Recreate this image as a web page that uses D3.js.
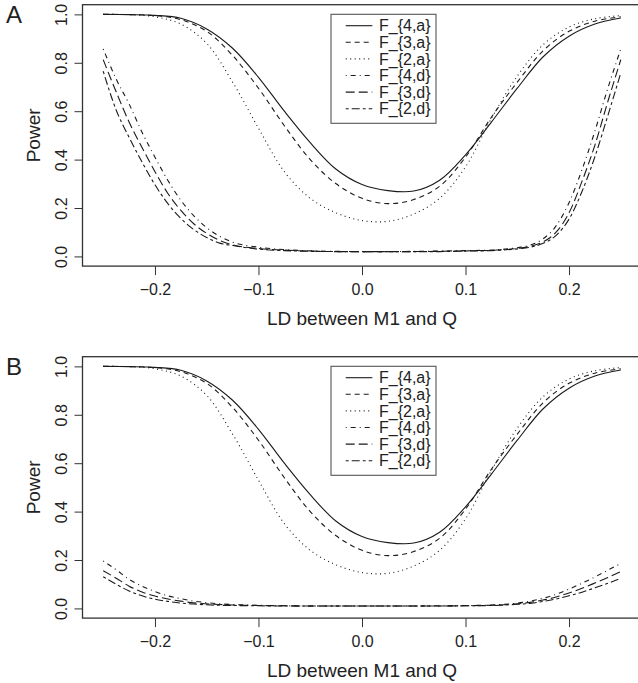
<!DOCTYPE html>
<html>
<head>
<meta charset="utf-8">
<script src="https://cdn.jsdelivr.net/npm/d3@7"></script>
<style>
  body { margin: 0; background: #fff; }
  svg text { font-family: "Liberation Sans", Arial, sans-serif; fill: #222; }
</style>
</head>
<body>
<svg id="chart" width="638" height="683"></svg>
<script>
// LD grid for the additive tests
const ld = [-0.25, -0.225, -0.2, -0.175, -0.15, -0.125, -0.1, -0.075, -0.05, -0.025, 0,
            0.025, 0.05, 0.075, 0.1, 0.125, 0.15, 0.175, 0.2, 0.225, 0.25];
const fourA  = [1.0, 0.999, 0.996, 0.984, 0.94, 0.86, 0.74, 0.60, 0.47, 0.36, 0.297,
                0.272, 0.27, 0.315, 0.42, 0.555, 0.695, 0.825, 0.91, 0.96, 0.985];
const threeA = [1.0, 0.999, 0.995, 0.978, 0.93, 0.83, 0.695, 0.54, 0.40, 0.30, 0.24,
                0.218, 0.235, 0.29, 0.41, 0.575, 0.72, 0.85, 0.93, 0.972, 0.99];
const twoA   = [1.0, 0.999, 0.99, 0.96, 0.88, 0.72, 0.53, 0.35, 0.24, 0.18, 0.148,
                0.145, 0.175, 0.24, 0.37, 0.57, 0.745, 0.875, 0.948, 0.982, 0.995];

// finer grid at the ends for the dominance tests
const ldDom = [-0.25, -0.2375, -0.225, -0.2125, -0.2, -0.1875, -0.175, -0.1625, -0.15, -0.1375, -0.125,
               -0.1, -0.075, -0.05, -0.025, 0, 0.025, 0.05, 0.075, 0.1,
               0.125, 0.1375, 0.15, 0.1625, 0.175, 0.1875, 0.2, 0.2125, 0.225, 0.2375, 0.25];
// panel A
const fourDomA  = [0.857, 0.733, 0.63, 0.513, 0.41, 0.314, 0.232, 0.168, 0.119, 0.083, 0.059,
                   0.038, 0.028, 0.023, 0.021, 0.02, 0.02, 0.021, 0.022, 0.024,
                   0.026, 0.03, 0.036, 0.047, 0.073, 0.126, 0.222, 0.358, 0.518, 0.695, 0.857];
const threeDomA = [0.813, 0.68, 0.555, 0.45, 0.35, 0.26, 0.19, 0.135, 0.095, 0.066, 0.048,
                   0.033, 0.026, 0.022, 0.02, 0.02, 0.02, 0.02, 0.021, 0.023,
                   0.025, 0.028, 0.033, 0.042, 0.06, 0.10, 0.18, 0.31, 0.46, 0.64, 0.813];
const twoDomA   = [0.765, 0.605, 0.492, 0.39, 0.296, 0.218, 0.157, 0.111, 0.078, 0.055, 0.045,
                   0.03, 0.024, 0.021, 0.02, 0.02, 0.02, 0.02, 0.02, 0.022,
                   0.024, 0.027, 0.031, 0.038, 0.054, 0.087, 0.154, 0.268, 0.412, 0.582, 0.758];
// panel B
const fourDomB  = [0.196, 0.16, 0.12, 0.092, 0.07, 0.052, 0.04, 0.03, 0.024, 0.019, 0.016,
                   0.013, 0.011, 0.01, 0.01, 0.01, 0.01, 0.01, 0.011, 0.012,
                   0.014, 0.017, 0.022, 0.03, 0.042, 0.058, 0.08, 0.104, 0.13, 0.158, 0.186];
const threeDomB = [0.156, 0.125, 0.092, 0.068, 0.051, 0.039, 0.03, 0.023, 0.019, 0.016, 0.014,
                   0.012, 0.011, 0.01, 0.01, 0.01, 0.01, 0.01, 0.01, 0.011,
                   0.013, 0.015, 0.019, 0.025, 0.035, 0.047, 0.064, 0.083, 0.105, 0.128, 0.152];
const twoDomB   = [0.131, 0.1, 0.072, 0.052, 0.038, 0.029, 0.022, 0.018, 0.015, 0.013, 0.012,
                   0.011, 0.01, 0.01, 0.01, 0.01, 0.01, 0.01, 0.01, 0.011,
                   0.012, 0.014, 0.017, 0.021, 0.029, 0.039, 0.052, 0.067, 0.085, 0.104, 0.124];

const legendLabels = ["F_{4,a}", "F_{3,a}", "F_{2,a}", "F_{4,d}", "F_{3,d}", "F_{2,d}"];
const dashes = [null, "5,4", "1,3.5", "1,4,5,4", "9,4", "3,3,8,3"];
const xTicks = [-0.2, -0.1, 0, 0.1, 0.2];
const yTicks = [0, 0.2, 0.4, 0.6, 0.8, 1.0];

const svg = d3.select("#chart");
const ink = "#1a1a1a";

function drawPanel(top, label, domSeries) {
  const g = svg.append("g");
  const x = d3.scaleLinear().domain([-0.27, 0.27]).range([82.5, 641.5]);
  const y = d3.scaleLinear().domain([-0.04, 1.04]).range([top + 261.4, top]);

  const addLine = d3.line().x((d, i) => x(ld[i])).y(d => y(d)).curve(d3.curveCatmullRom.alpha(0.5));
  const domLine = d3.line().x((d, i) => x(ldDom[i])).y(d => y(d)).curve(d3.curveMonotoneX);

  const series = [
    { vals: fourA, line: addLine }, { vals: threeA, line: addLine }, { vals: twoA, line: addLine },
    { vals: domSeries[0], line: domLine }, { vals: domSeries[1], line: domLine }, { vals: domSeries[2], line: domLine }
  ];
  series.forEach((s, i) => {
    g.append("path")
      .attr("d", s.line(s.vals))
      .attr("fill", "none")
      .attr("stroke", ink)
      .attr("stroke-width", 1.1)
      .attr("stroke-dasharray", dashes[i]);
  });

  // x axis
  const xa = g.append("g")
    .attr("transform", `translate(0,${top + 261.4})`)
    .call(d3.axisBottom(x).tickValues(xTicks).tickSize(9).tickPadding(9)
      .tickFormat(d => d3.format(".1f")(d).replace("-", "\u2212")));
  xa.select(".domain").remove();
  xa.selectAll(".tick line").attr("stroke", "#333");
  xa.selectAll("text").style("font-size", "16px").attr("fill", "#222");

  // y axis, rotated labels as in R
  const ya = g.append("g")
    .attr("transform", "translate(82.5,0)")
    .call(d3.axisLeft(y).tickValues(yTicks).tickSize(8).tickFormat(d3.format(".1f")));
  ya.select(".domain").remove();
  ya.selectAll(".tick line").attr("stroke", "#333");
  ya.selectAll("text")
    .attr("x", null).attr("dy", null)
    .attr("text-anchor", "middle")
    .attr("transform", "translate(-15.7,0) rotate(-90)")
    .style("font-size", "16px").attr("fill", "#222");

  // box
  g.append("rect")
    .attr("x", 82.5).attr("y", top)
    .attr("width", 559).attr("height", 261.4)
    .attr("fill", "none").attr("stroke", "#333").attr("stroke-width", 1.3);

  // axis titles
  g.append("text")
    .attr("x", 362).attr("y", top + 320)
    .attr("text-anchor", "middle")
    .style("font-size", "19px")
    .text("LD between M1 and Q");
  g.append("text")
    .attr("transform", `translate(40,${top + 130.7}) rotate(-90)`)
    .attr("text-anchor", "middle")
    .style("font-size", "19px")
    .text("Power");

  // panel letter
  g.append("text")
    .attr("x", 6).attr("y", top + 18.5)
    .style("font-size", "24px")
    .text(label);

  // legend
  const lg = g.append("g").attr("transform", `translate(331,${top + 9.6})`);
  lg.append("rect")
    .attr("width", 105).attr("height", 109)
    .attr("fill", "#fff").attr("stroke", "#555").attr("stroke-width", 1.1);
  legendLabels.forEach((t, i) => {
    const cy = 11.4 + i * 16.6;
    lg.append("line")
      .attr("x1", 14.7).attr("x2", 41.3).attr("y1", cy).attr("y2", cy)
      .attr("stroke", ink).attr("stroke-width", 1.1)
      .attr("stroke-dasharray", dashes[i]);
    lg.append("text")
      .attr("x", 48).attr("y", cy + 5.7)
      .style("font-size", "16px")
      .text(t);
  });
}

drawPanel(4.7, "A", [fourDomA, threeDomA, twoDomA]);
drawPanel(356.7, "B", [fourDomB, threeDomB, twoDomB]);
</script>
</body>
</html>
